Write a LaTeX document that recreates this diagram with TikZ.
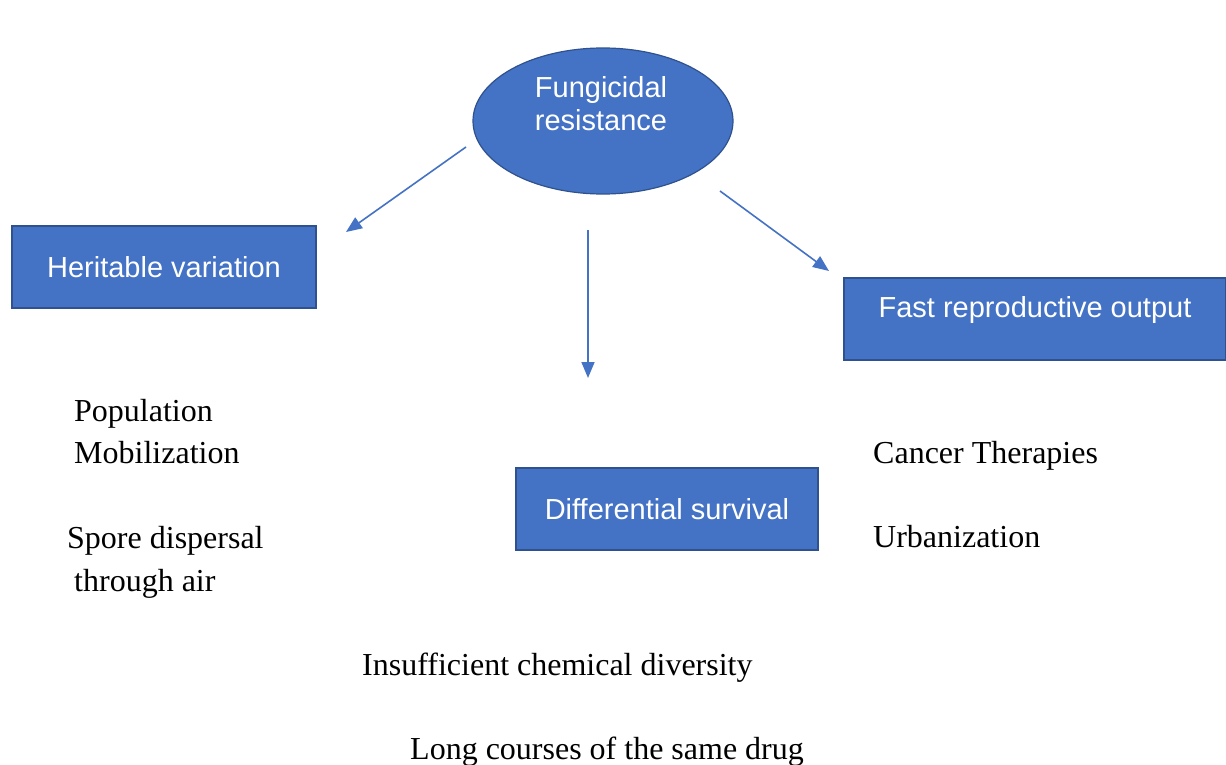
\documentclass[tikz,border=0pt]{standalone}
\usepackage{fontspec}
\setmainfont{Liberation Serif}
\newfontfamily\boxfont{Liberation Sans}
\usetikzlibrary{shapes.geometric,arrows.meta}
\definecolor{ofblue}{HTML}{4472C4}
\definecolor{ofedge}{HTML}{2F528F}
\begin{document}
\begin{tikzpicture}[x=1pt,y=-1pt,
  bluebox/.style={draw=ofedge,fill=ofblue,line width=1.2pt,text=white,
    font=\boxfont\fontsize{29}{34}\selectfont,inner sep=0pt,
    text height=21pt,text depth=0pt},
  boxtext/.style={text=white,font=\boxfont\fontsize{29}{34}\selectfont,align=center,inner sep=0pt},
  plain/.style={font=\fontsize{32}{38}\selectfont,anchor=base west,inner sep=0pt},
  conn/.style={draw=ofblue,line width=1.6pt,-{Triangle[length=16pt,width=13pt]}}]
\useasboundingbox (0,0) rectangle (1226,765);
\fill[white] (0,0) rectangle (1226,765);

\node[ellipse,draw=ofedge,fill=ofblue,line width=1.2pt,minimum width=260pt,minimum height=146pt,inner sep=0pt] (fr) at (603,121) {};
\node[boxtext] (frt) at (601,104) {Fungicidal\\[-1pt]resistance};

\node[bluebox,minimum width=304pt,minimum height=82pt] (hv) at (164,267) {Heritable variation};
\node[bluebox,minimum width=382pt,minimum height=82pt,text depth=24pt] (fro) at (1035,319) {Fast reproductive output};
\node[bluebox,minimum width=302pt,minimum height=82pt] (ds) at (667,509) {Differential survival};

\coordinate (a1s) at (466,147);
\coordinate (a1e) at (346,232);
\coordinate (a2s) at (588,230);
\coordinate (a2e) at (588,378);
\coordinate (a3s) at (720,191);
\coordinate (a3e) at (829,271);
\draw[conn] (a1s) -- (a1e);
\draw[conn] (a2s) -- (a2e);
\draw[conn] (a3s) -- (a3e);

\node[plain] (t1) at (74,421) {Population};
\node[plain] (t2) at (74,463) {Mobilization};
\node[plain] (t3) at (67,548) {Spore dispersal};
\node[plain] (t4) at (74,591) {through air};
\node[plain] (t5) at (873,463) {Cancer Therapies};
\node[plain] (t6) at (873,547) {Urbanization};
\node[plain] (t7) at (362,675) {Insufficient chemical diversity};
\node[plain] (t8) at (410,759) {Long courses of the same drug};
\end{tikzpicture}
\end{document}
